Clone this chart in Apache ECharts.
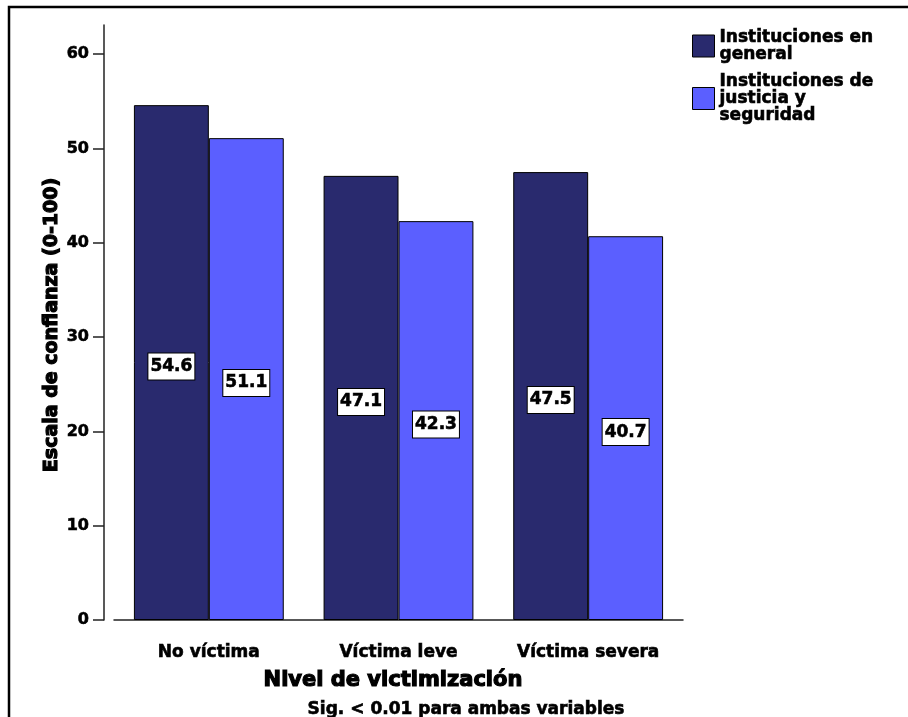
<!DOCTYPE html>
<html>
<head>
<meta charset="utf-8">
<title>Escala de confianza</title>
<script src="https://cdn.jsdelivr.net/npm/echarts@6/dist/echarts.min.js"></script>
<style>
  html, body { margin: 0; padding: 0; background: #fff; }
  #chart { width: 908px; height: 717px; }
</style>
</head>
<body>
<div id="chart"></div>
<script>
// datos
var categories = ['No víctima', 'Víctima leve', 'Víctima severa'];
var general = [54.6, 47.1, 47.5];
var justicia = [51.1, 42.3, 40.7];
var yTicks = [0, 10, 20, 30, 40, 50, 60];
var seriesNames = ['Instituciones en general', 'Instituciones de justicia y seguridad'];
var legendLabels = ['Instituciones en\ngeneral', 'Instituciones de\njusticia y\nseguridad'];

var FONT = 'DejaVu Sans';

var chart = echarts.init(document.getElementById('chart'));

// texto un poco más grueso (como Arial Black)
var heavy = { textBorderColor: '#000', textBorderWidth: 0.6 };

var barLabel = Object.assign({
  show: true,
  position: 'inside',
  offset: [0, 4],
  color: '#000',
  fontFamily: FONT,
  fontWeight: 'bold',
  fontSize: 17,
  backgroundColor: '#fff',
  borderColor: '#000',
  borderWidth: 1,
  padding: [5, 2, 4, 2],
  formatter: function (p) { return p.value.toFixed(1); }
}, heavy);

chart.setOption({
  animation: false,
  grid: { left: 114, right: 225, top: 25, bottom: 97 },
  legend: {
    orient: 'vertical',
    left: 687,
    top: 19,
    itemWidth: 22,
    itemHeight: 22,
    itemGap: 0,
    icon: 'rect',
    itemStyle: { borderColor: '#000', borderWidth: 1 },
    textStyle: Object.assign({
      fontFamily: FONT, fontWeight: 'bold', fontSize: 17, color: '#000',
      lineHeight: 17, padding: [10, 0, 0, 0]
    }, heavy),
    formatter: function (name) { return legendLabels[seriesNames.indexOf(name)]; },
    data: seriesNames
  },
  xAxis: {
    type: 'category',
    data: categories,
    axisLine: { lineStyle: { color: '#222', width: 1.5 } },
    axisTick: { alignWithLabel: true, length: 10, lineStyle: { color: '#222', width: 1.5 } },
    axisLabel: Object.assign({ margin: 24, color: '#000', fontFamily: FONT, fontWeight: 'bold', fontSize: 17 }, heavy)
  },
  yAxis: {
    type: 'value',
    min: 0,
    max: 63.1,
    offset: 10,
    splitLine: { show: false },
    axisLine: { show: true, lineStyle: { color: '#222', width: 1.5 } },
    axisTick: { show: true, length: 11, customValues: yTicks, lineStyle: { color: '#222', width: 1.5 } },
    axisLabel: Object.assign({ margin: 15, customValues: yTicks, color: '#000', fontFamily: FONT, fontWeight: 'bold', fontSize: 16 }, heavy)
  },
  series: [
    {
      name: seriesNames[0],
      type: 'bar',
      data: general,
      barGap: 0,
      barCategoryGap: '21%',
      itemStyle: { color: '#292a6e', borderColor: '#000', borderWidth: 1 },
      label: barLabel
    },
    {
      name: seriesNames[1],
      type: 'bar',
      data: justicia,
      itemStyle: { color: '#5b5fff', borderColor: '#000', borderWidth: 1 },
      label: barLabel
    }
  ],
  graphic: [
    {
      // marco
      type: 'rect',
      shape: { x: 9, y: 7, width: 1000, height: 1000 },
      style: { fill: 'none', stroke: '#000', lineWidth: 2.5 },
      silent: true
    },
    {
      type: 'text',
      x: 52, y: 325,
      rotation: Math.PI / 2,
      style: {
        text: 'Escala de confianza (0-100)',
        fontFamily: FONT, fontWeight: 'bold', fontSize: 19, fill: '#000',
        stroke: '#000', lineWidth: 1.2,
        align: 'center', verticalAlign: 'middle'
      }
    },
    {
      type: 'text',
      x: 393, y: 681,
      style: {
        text: 'Nivel de victimización',
        fontFamily: FONT, fontWeight: 'bold', fontSize: 21, fill: '#000',
        stroke: '#000', lineWidth: 1.2,
        align: 'center', verticalAlign: 'middle'
      }
    },
    {
      type: 'text',
      x: 466, y: 710,
      style: {
        text: 'Sig. < 0.01 para ambas variables',
        fontFamily: FONT, fontWeight: 'bold', fontSize: 17, fill: '#000',
        stroke: '#000', lineWidth: 0.6,
        align: 'center', verticalAlign: 'middle'
      }
    }
  ]
});
</script>
</body>
</html>
